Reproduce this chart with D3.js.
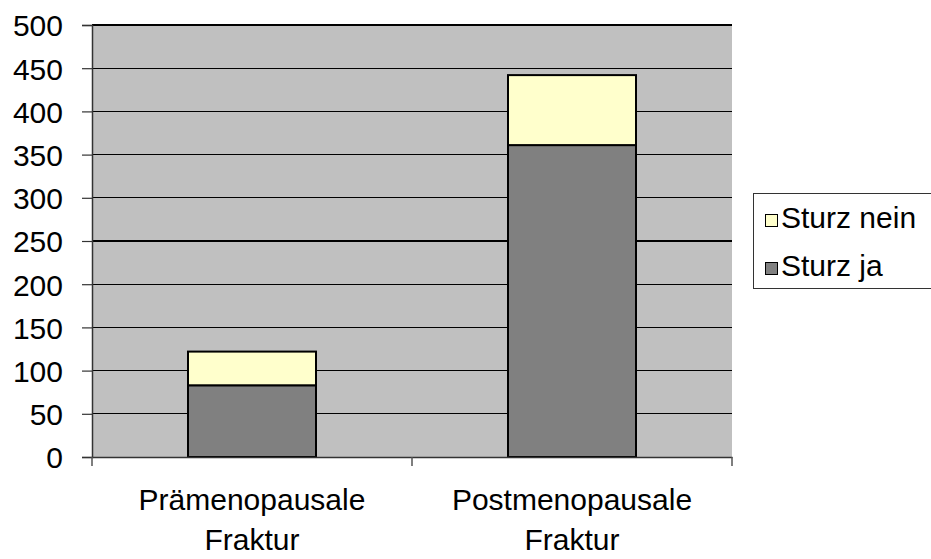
<!DOCTYPE html>
<html><head><meta charset="utf-8">
<script src="https://cdn.jsdelivr.net/npm/d3@7/dist/d3.min.js"></script>
<style>body{margin:0;background:#fff;} text{font-family:"Liberation Sans",Arial,sans-serif;fill:#000;}</style>
</head><body>
<svg id="chart" width="931" height="559"></svg>
<script>
const categories = [["Prämenopausale","Fraktur"],["Postmenopausale","Fraktur"]];
const seriesNames = ["Sturz ja","Sturz nein"];
const sturzJa = [83, 361];
const sturzNein = [39, 81];
const yTicks = [0,50,100,150,200,250,300,350,400,450,500];
const colors = {"Sturz ja":"#808080","Sturz nein":"#ffffcc"};

const svg = d3.select("#chart");
const m = {left:92, right:732, top:25, bottom:457};
const catKeys = categories.map(c=>c.join(" "));
const x = d3.scaleBand().domain(catKeys).range([m.left,m.right]).padding(0);
const y = d3.scaleLinear().domain([0,500]).range([m.bottom,m.top]);
const fs = 30;

svg.append("rect").attr("x",m.left).attr("y",m.top).attr("width",m.right-m.left).attr("height",m.bottom-m.top).attr("fill","#c0c0c0");

// gridlines
svg.append("g").selectAll("line").data(yTicks.filter(t=>t>0)).join("line")
  .attr("x1",m.left).attr("x2",m.right).attr("y1",d=>y(d)).attr("y2",d=>y(d))
  .attr("stroke","#000").attr("stroke-width",1.2).attr("shape-rendering","crispEdges");

// bars
const data = catKeys.map((k,i)=>({key:k, "Sturz ja":sturzJa[i], "Sturz nein":sturzNein[i]}));
const stack = d3.stack().keys(seriesNames)(data);
const bw = x.bandwidth()*0.4;
svg.append("g").selectAll("g").data(stack).join("g").attr("fill",s=>colors[s.key])
  .selectAll("rect").data(s=>s).join("rect")
  .attr("x",d=>x(d.data.key)+x.bandwidth()/2-bw/2)
  .attr("width",bw)
  .attr("y",d=>y(d[1])).attr("height",d=>y(d[0])-y(d[1]))
  .attr("stroke","#000").attr("stroke-width",2);

// y axis
const ya = svg.append("g").attr("transform",`translate(${m.left},0)`)
  .call(d3.axisLeft(y).tickValues(yTicks).tickSize(10).tickPadding(19).tickFormat(d3.format("d")));
ya.select(".domain").attr("stroke","#333").attr("stroke-width",1.5);
ya.selectAll(".tick line").attr("stroke","#333").attr("stroke-width",1.2);
ya.selectAll("text").attr("font-size",fs).attr("font-family","Liberation Sans, Arial, sans-serif").attr("fill","#000").attr("dy","0.36em");

// x axis
const xa = svg.append("g").attr("transform",`translate(0,${m.bottom})`)
  .call(d3.axisBottom(x).tickValues([]).tickSizeOuter(0));
xa.select(".domain").attr("stroke","#333").attr("stroke-width",1.5);
const bounds = [m.left, ...catKeys.map(k=>x(k)+x.bandwidth())];
xa.selectAll("line.sep").data(bounds).join("line").attr("class","sep")
  .attr("x1",d=>d).attr("x2",d=>d).attr("y1",0).attr("y2",9).attr("stroke","#555").attr("stroke-width",1.5);

const lbl = svg.append("g").selectAll("text").data(categories).join("text")
  .attr("text-anchor","middle").attr("font-size",fs)
  .attr("x",(d,i)=>x(catKeys[i])+x.bandwidth()/2);
lbl.selectAll("tspan").data(d=>d).join("tspan")
  .attr("x",function(){return this.parentNode.getAttribute("x");})
  .attr("y",(d,i)=>510+i*40).text(d=>d);

// legend
const lg = svg.append("g");
lg.append("rect").attr("x",753.5).attr("y",193.5).attr("width",200).attr("height",95)
  .attr("fill","#fff").attr("stroke","#333").attr("stroke-width",1);
const legItems = ["Sturz nein","Sturz ja"];
legItems.forEach((n,i)=>{
  const base = 228 + i*48;
  lg.append("rect").attr("x",765.5).attr("y",base-13.5).attr("width",12).attr("height",12)
    .attr("fill",colors[n]).attr("stroke","#000").attr("stroke-width",1);
  lg.append("text").attr("x",781).attr("y",base).attr("font-size",fs).text(n);
});
</script>
</body></html>
